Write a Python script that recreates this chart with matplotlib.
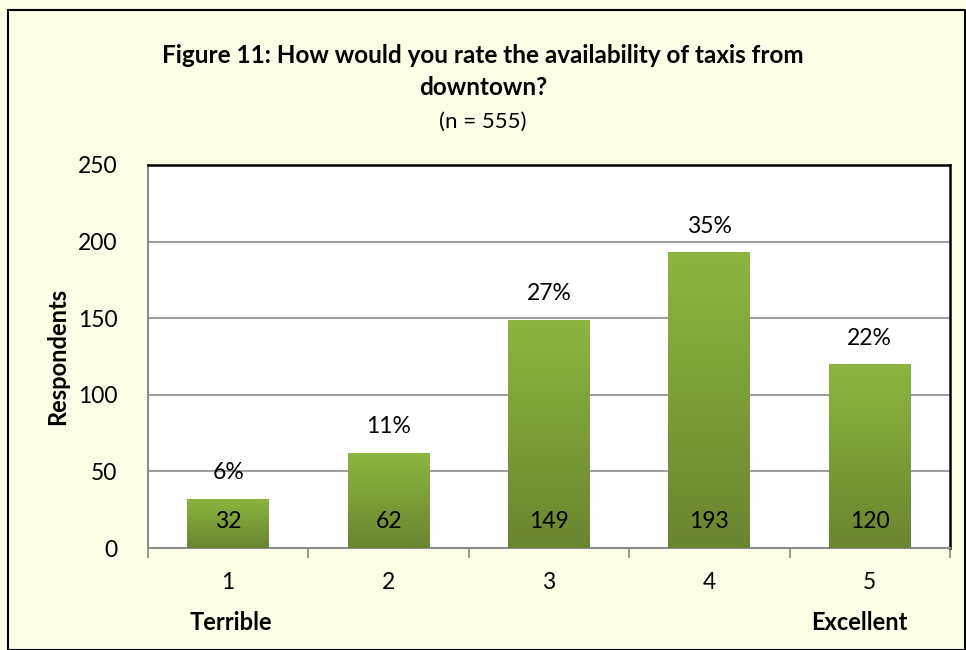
import numpy as np
import matplotlib.pyplot as plt
from matplotlib.colors import LinearSegmentedColormap
from matplotlib.patches import Rectangle

plt.rcParams['font.family'] = ['Lato', 'DejaVu Sans']

# Data
categories = ['1', '2', '3', '4', '5']
respondents = [32, 62, 149, 193, 120]
percents = ['6%', '11%', '27%', '35%', '22%']
n_total = 555

bg = '#FEFEE6'
fig = plt.figure(figsize=(9.66, 6.5), dpi=100, facecolor=bg)
ax = fig.add_axes([0.1532, 0.1569, 0.8302, 0.5893])
ax.set_facecolor('white')

x = np.arange(len(categories))
width = 0.51
bars = ax.bar(x, respondents, width=width, color='none', zorder=3)

# gradient fill for each bar
cmap = LinearSegmentedColormap.from_list('g', ['#6A8530', '#8DB53F'])
grad = np.linspace(0, 1, 256).reshape(-1, 1)
for b in bars:
    x0, y0, w, h = b.get_x(), b.get_y(), b.get_width(), b.get_height()
    im = ax.imshow(grad, cmap=cmap, aspect='auto', origin='lower',
                   extent=[x0, x0 + w, y0, y0 + h], zorder=3)
    clip = Rectangle((x0, y0), w, h, transform=ax.transData)
    im.set_clip_path(clip)

for i, v in enumerate(respondents):
    ax.text(i, 17, str(v), ha='center', va='center', fontsize=16.5, zorder=4)
    ax.text(i, v + 17, percents[i], ha='center', va='center', fontsize=16.5, zorder=4)

ax.set_xlim(-0.5, 4.5)
ax.set_ylim(0, 250)
ax.set_yticks([0, 50, 100, 150, 200, 250])
ax.tick_params(axis='y', labelsize=16.5, length=0, pad=22)
ax.set_xticks(x)
ax.set_xticklabels(categories, fontsize=16.5)
ax.tick_params(axis='x', length=0, pad=17)
# boundary tick marks between categories
ax.set_xticks(np.arange(-0.5, 5, 1), minor=True)
ax.tick_params(axis='x', which='minor', length=7, color='#888888', width=1.2)

ax.yaxis.grid(True, color='#8C8C8C', linewidth=1.2, zorder=0)
ax.set_axisbelow(True)
for side in ['left', 'bottom']:
    ax.spines[side].set_color('#8C8C8C')
    ax.spines[side].set_linewidth(1.5)
for side in ['top', 'right']:
    ax.spines[side].set_color('black')
    ax.spines[side].set_linewidth(1.8)

ax.set_ylabel('Respondents', fontsize=17, fontweight='bold', labelpad=6)

fig.text(0.5, 0.89, 'Figure 11: How would you rate the availability of taxis from\ndowntown?',
         ha='center', va='center', fontsize=17.5, fontweight='bold', linespacing=1.5)
fig.text(0.5, 0.812, '(n = %d)' % n_total, ha='center', va='center', fontsize=16)

fig.text(231 / 966, 0.042, 'Terrible', ha='center', va='center', fontsize=17, fontweight='bold')
fig.text(859 / 966, 0.042, 'Excellent', ha='center', va='center', fontsize=17, fontweight='bold')

# outer border
fig.patches.append(Rectangle((8 / 966, 0.0), 957 / 966, 640 / 650, transform=fig.transFigure,
                             fill=False, edgecolor='black', linewidth=1.5))

fig.savefig('out.png', dpi=100, facecolor=bg)
